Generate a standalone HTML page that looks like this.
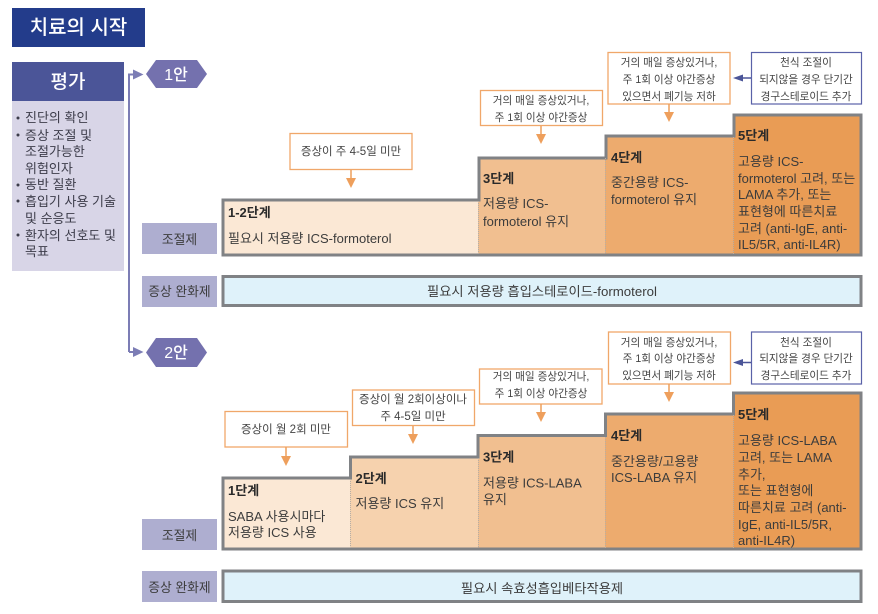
<!DOCTYPE html>
<html lang="ko"><head><meta charset="utf-8"><title>치료의 시작</title>
<style>
html,body{margin:0;padding:0;background:#fff;width:878px;height:614px;overflow:hidden}
svg{display:block}
text{font-family:"Liberation Sans","Noto Sans CJK KR",sans-serif;fill:#3c3c3c}
.s{font-size:13px}
.b{font-size:13.25px;text-anchor:middle}
.c{font-size:10.6px;text-anchor:middle;fill:#444}
.d{font-size:11.5px;text-anchor:middle;fill:#444}
.h{font-size:13px;font-weight:700;fill:#2a2a2a}
.l{font-size:13px;fill:#3c3c4a}
.lb{font-size:12.8px;text-anchor:middle;fill:#3c3c3c}
.w{fill:#fff;text-anchor:middle}
</style></head><body>
<svg xmlns="http://www.w3.org/2000/svg" width="878" height="614" viewBox="0 0 878 614">
<rect width="878" height="614" fill="#fff"/>
<rect x="12" y="8" width="133" height="39" fill="#233c8b"/>
<text x="78.500" y="34" class="w" style="font-size:20px;font-weight:500">치료의 시작</text>
<rect x="12" y="62" width="112" height="39" fill="#4b5598"/>
<rect x="12" y="101" width="112" height="170" fill="#d8d5e7"/>
<text x="68" y="88" class="w" style="font-size:19px;font-weight:500">평가</text>
<g fill="#3c3c4a"><circle cx="18" cy="118" r="1.5"/><circle cx="18" cy="135" r="1.5"/><circle cx="18" cy="185" r="1.5"/><circle cx="18" cy="201" r="1.5"/><circle cx="18" cy="235" r="1.5"/></g>
<text class="l" x="25" y="122">진단의 확인</text>
<text class="l" x="25" y="140">증상 조절 및</text>
<text class="l" x="25" y="156">조절가능한</text>
<text class="l" x="25" y="173">위험인자</text>
<text class="l" x="25" y="189">동반 질환</text>
<text class="l" x="25" y="206">흡입기 사용 기술</text>
<text class="l" x="25" y="223">및 순응도</text>
<text class="l" x="25" y="240">환자의 선호도 및</text>
<text class="l" x="25" y="256">목표</text>
<path d="M129 352V74.500H134M129 352H134" fill="none" stroke="#7c7db5" stroke-width="2"/>
<path d="M133 69.500L143.500 74.500L133 79.500Z M133 347L143.500 352L133 357Z" fill="#7c7db5"/>
<path d="M146 74L156 60H197L207 74L197 88H156Z" fill="#7471ae"/>
<path d="M146 352.500L156 338H197L207 352.500L197 367H156Z" fill="#7471ae"/>
<text x="176" y="80" class="w" style="font-size:16px;font-weight:500">1안</text>
<text x="176" y="358" class="w" style="font-size:16px;font-weight:500">2안</text>
<g fill="#aeaed0"><rect x="142" y="223" width="75" height="31"/><rect x="142" y="276" width="75" height="31"/><rect x="142" y="519" width="75" height="31"/><rect x="142" y="571" width="75" height="31"/></g>
<text class="lb" x="179.500" y="244">조절제</text><text class="lb" x="179.500" y="296">증상 완화제</text>
<text class="lb" x="179.500" y="540">조절제</text><text class="lb" x="179.500" y="592">증상 완화제</text>
<rect x="223" y="200" width="256" height="55" fill="#fbe8d5"/>
<rect x="478" y="158" width="127" height="97" fill="#f1bf90"/>
<rect x="605" y="136" width="128" height="119" fill="#edab6e"/>
<rect x="733" y="115" width="128" height="140" fill="#e99c55"/>
<path d="M223 255V200H479V158H606V136H734V115H861V255Z" fill="none" stroke="#808285" stroke-width="3"/>
<rect x="223" y="276.500" width="638" height="29" fill="#dff2fa" stroke="#808285" stroke-width="3"/>
<rect x="223" y="478" width="127" height="71" fill="#fbe8d5"/>
<rect x="350" y="457" width="128" height="92" fill="#f6d2ae"/>
<rect x="478" y="435.500" width="127" height="113.500" fill="#f1bf90"/>
<rect x="605" y="414" width="128" height="135" fill="#edab6e"/>
<rect x="733" y="393" width="128" height="156" fill="#e99c55"/>
<path d="M223 549V478H350.500V457H478V435.500H605.500V414H733.500V393H861V549Z" fill="none" stroke="#808285" stroke-width="3"/>
<rect x="223" y="571" width="638" height="30.500" fill="#dff2fa" stroke="#808285" stroke-width="3"/>
<g stroke="#b5aea6" stroke-width="1" stroke-dasharray="1 1"><path d="M478.500 201V254M605.500 158V254M733.500 137V254M350.500 479V548M478.500 458V548M605.500 437V548M733.500 415V548"/></g>
<text class="h" x="228" y="217">1-2단계</text><text class="s" x="228" y="243">필요시 저용량 ICS-formoterol</text>
<text class="h" x="483" y="183">3단계</text><text class="s" x="483" y="208">저용량 ICS-</text><text class="s" x="483" y="226">formoterol 유지</text>
<text class="h" x="611" y="162">4단계</text><text class="s" x="611" y="187">중간용량 ICS-</text><text class="s" x="611" y="204">formoterol 유지</text>
<text class="h" x="738" y="140">5단계</text><text class="s" x="738" y="166">고용량 ICS-</text><text class="s" x="738" y="183">formoterol 고려, 또는</text><text class="s" x="738" y="199">LAMA 추가, 또는</text><text class="s" x="738" y="216">표현형에 따른치료</text><text class="s" x="738" y="233">고려 (anti-IgE, anti-</text><text class="s" x="738" y="249">IL5/5R, anti-IL4R)</text>
<text class="b" x="542" y="296">필요시 저용량 흡입스테로이드-formoterol</text>
<text class="h" x="228" y="495">1단계</text><text class="s" x="228" y="521">SABA 사용시마다</text><text class="s" x="228" y="537">저용량 ICS 사용</text>
<text class="h" x="355.500" y="483">2단계</text><text class="s" x="355.500" y="508">저용량 ICS 유지</text>
<text class="h" x="483" y="461.500">3단계</text><text class="s" x="483" y="487.500">저용량 ICS-LABA</text><text class="s" x="483" y="504">유지</text>
<text class="h" x="611" y="440">4단계</text><text class="s" x="611" y="466">중간용량/고용량</text><text class="s" x="611" y="482">ICS-LABA 유지</text>
<text class="h" x="738" y="419">5단계</text><text class="s" x="738" y="445">고용량 ICS-LABA</text><text class="s" x="738" y="462">고려, 또는 LAMA</text><text class="s" x="738" y="479">추가,</text><text class="s" x="738" y="495">또는 표현형에</text><text class="s" x="738" y="512">따른치료 고려 (anti-</text><text class="s" x="738" y="529">IgE, anti-IL5/5R,</text><text class="s" x="738" y="545">anti-IL4R)</text>
<text class="b" x="542" y="593">필요시 속효성흡입베타작용제</text>
<g fill="#fff" stroke="#f0a76a" stroke-width="1.300">
<rect x="290" y="133.500" width="122" height="36"/><rect x="480.500" y="90.500" width="122" height="35"/><rect x="608" y="52.500" width="122" height="51.500"/>
<rect x="225" y="411.500" width="122.500" height="35.500"/><rect x="352.500" y="390" width="122" height="35.500"/><rect x="479.500" y="369" width="122.500" height="35"/><rect x="608.500" y="332" width="122" height="52"/>
</g>
<g fill="#fff" stroke="#5a62a8" stroke-width="1.200"><rect x="751.500" y="52.500" width="110" height="51.500"/><rect x="751.500" y="332" width="110" height="52"/></g>
<g stroke="#ee9f5c" stroke-width="1.500" fill="none"><path d="M351 170V178M541 126V134M669 104V112M286 447V456M413 426V434M541 404V412M669 384V392"/></g>
<g fill="#ee9f5c"><path d="M346 178H356L351 188Z M536 134H546L541 144Z M664 112H674L669 122Z M281 456H291L286 466Z M408 434H418L413 444Z M536 412H546L541 422Z M664 392H674L669 402Z"/></g>
<path d="M742 78H751M742 362.500H751" stroke="#4b5598" stroke-width="1.500"/>
<path d="M733 78L743 74.500V81.500Z M733 362.500L743 359V366Z" fill="#4b5598"/>
<text class="d" x="351" y="155">증상이 주 4-5일 미만</text>
<text class="c" x="541" y="104">거의 매일 증상있거나,</text><text class="c" x="541" y="121">주 1회 이상 야간증상</text>
<text class="c" x="669" y="66">거의 매일 증상있거나,</text><text class="c" x="669" y="83">주 1회 이상 야간증상</text><text class="c" x="669" y="100">있으면서 폐기능 저하</text>
<text class="c" x="806" y="66">천식 조절이</text><text class="c" x="806" y="83">되지않을 경우 단기간</text><text class="c" x="806" y="100">경구스테로이드 추가</text>
<text class="d" x="286" y="433">증상이 월 2회 미만</text>
<text class="d" x="413" y="403">증상이 월 2회이상이나</text><text class="d" x="413" y="420">주 4-5일 미만</text>
<text class="c" x="541" y="380">거의 매일 증상있거나,</text><text class="c" x="541" y="397">주 1회 이상 야간증상</text>
<text class="c" x="669" y="346">거의 매일 증상있거나,</text><text class="c" x="669" y="362">주 1회 이상 야간증상</text><text class="c" x="669" y="379">있으면서 폐기능 저하</text>
<text class="c" x="806" y="346">천식 조절이</text><text class="c" x="806" y="362">되지않을 경우 단기간</text><text class="c" x="806" y="379">경구스테로이드 추가</text>
</svg>
</body></html>
